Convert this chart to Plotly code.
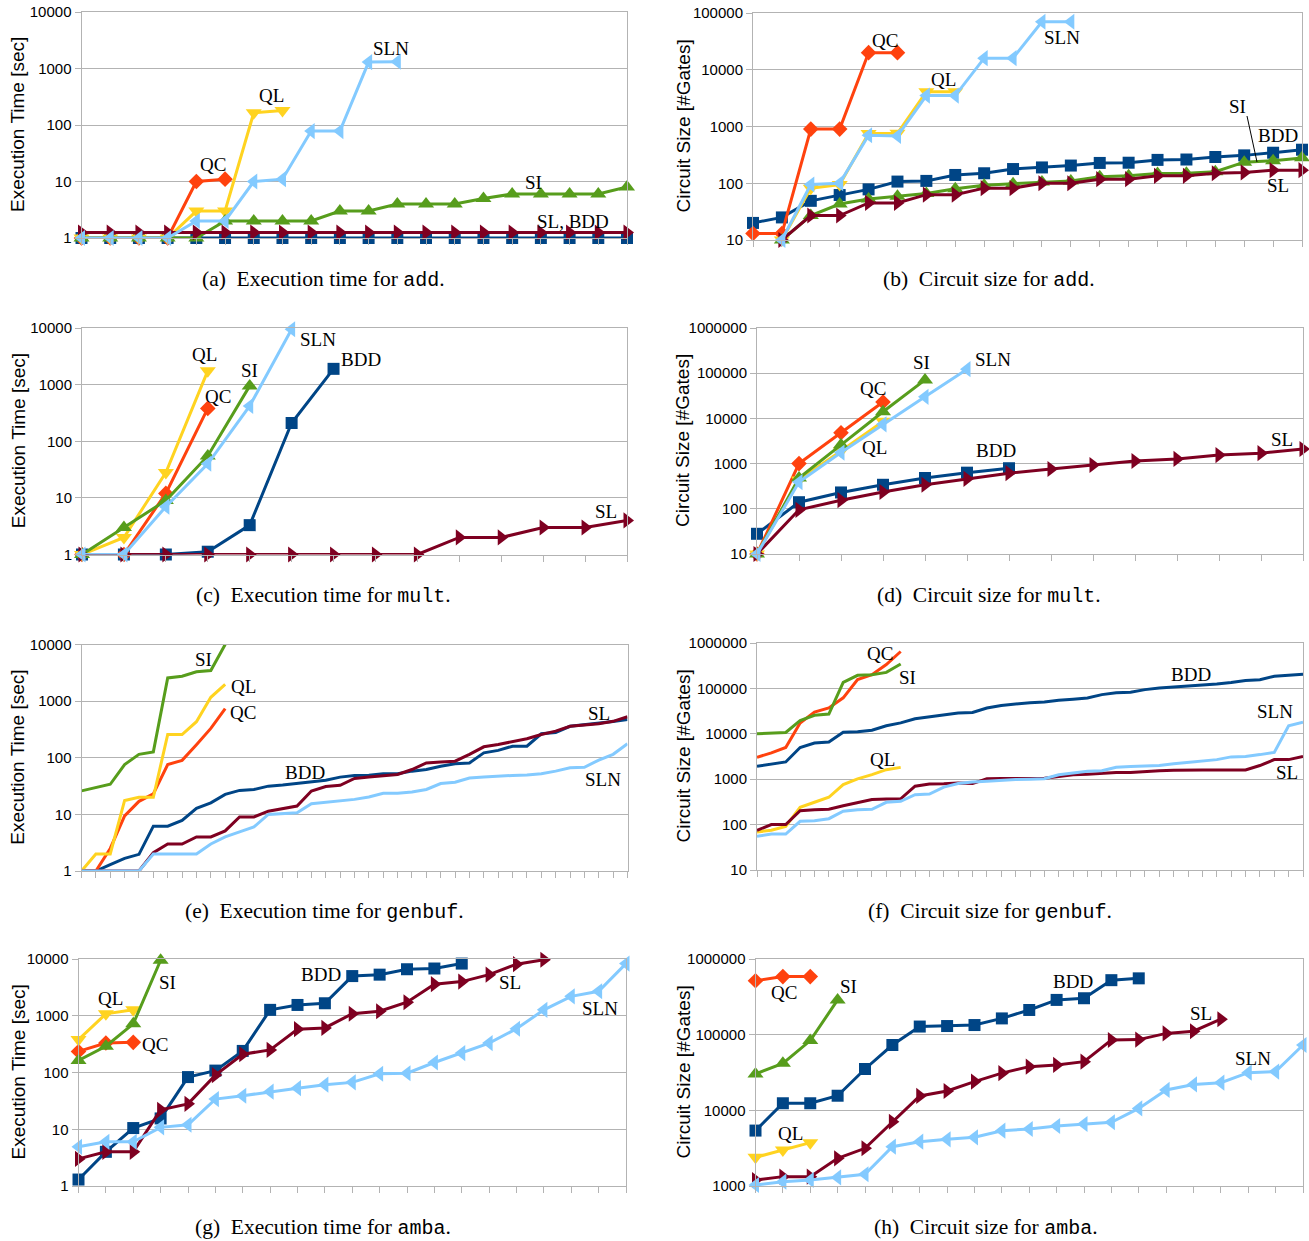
import math
import plotly.graph_objects as go

W, H = 1309, 1241

# ---------------- data ----------------
SERIES = ["BDD", "QC", "QL", "SI", "SL", "SLN"]

a_BDD = [1, 1, 1, 1, 1, 1, 1, 1, 1, 1, 1, 1, 1, 1, 1, 1, 1, 1, 1, 1]
a_QC = [1, 1, 1, 1, 10, 11]
a_QL = [1, 1, 1, 1, 3, 3, 165, 180]
a_SI = [1, 1, 1, 1, 1, 2, 2, 2, 2, 3, 3, 4, 4, 4, 5, 6, 6, 6, 6, 8]
a_SL = [1.25, 1.25, 1.25, 1.25, 1.25, 1.25, 1.25, 1.25, 1.25, 1.25, 1.25, 1.25, 1.25, 1.25, 1.25, 1.25, 1.25, 1.25, 1.25, 1.25]
a_SLN = [1, 1, 1, 1, 2, 2, 10, 11, 78, 78, 1300, 1320]

b_BDD = [20, 25, 49, 62, 78, 107, 110, 140, 150, 178, 190, 205, 228, 230, 258, 262, 290, 310, 345, 390]
b_QC = [13, 13, 900, 900, 20000, 20000]
b_QL = [None, 10, 82, 95, 750, 760, 4100, 4100]
b_SI = [None, 10, 27, 43, 53, 59, 66, 80, 92, 98, 105, 110, 130, 135, 148, 150, 160, 235, 250, 280]
b_SL = [None, 10, 27, 27, 45, 45, 63, 63, 82, 82, 100, 100, 118, 118, 135, 135, 150, 155, 170, 170]
b_SLN = [None, 10, 95, 100, 700, 680, 3500, 3500, 16000, 16000, 70000, 70000]

c_BDD = [1, 1, 1, 1.12, 3.3, 210, 1900]
c_QC = [1, 1, 12, 380]
c_QL = [1, 2, 28, 1750]
c_SI = [1, 3, 9, 55, 950]
c_SL = [1, 1, 1, 1, 1, 1, 1, 1, 1, 2, 2, 3, 3, 4]
c_SLN = [1, 1, 7, 40, 420, 9500]

d_BDD = [28, 140, 230, 340, 480, 630, 790]
d_QC = [10, 1000, 4800, 23000]
d_QL = [10, 435, 1900, 8600]
d_SI = [10, 480, 2600, 14000, 71000]
d_SL = [10, 95, 155, 235, 340, 460, 615, 760, 930, 1140, 1270, 1540, 1700, 2100]
d_SLN = [10, 390, 1750, 7400, 30000, 123000]

e_BDD = [1, 1, 1.3, 1.67, 1.97, 6.2, 6.2, 7.8, 12.8, 16, 22.5, 26.5, 27.5, 31.5, 33, 35, 37.5, 40, 45.5, 48.5,
         49, 52, 52, 58, 62, 71, 78, 81, 122, 135, 160, 160, 265, 280, 360, 380, 400, 435, 475]
e_QC = [1, 1, 2.5, 9.4, 17, 23, 76, 90, 170, 330, 740]
e_QL = [1, 2, 2, 17.6, 20, 20, 257, 257, 433, 1170, 1970]
e_SI = [26, 29.5, 34, 76, 115, 127, 2570, 2760, 3300, 3470, 10000]
e_SL = [1, 1, 1, 1, 1, 2.1, 3, 3, 4, 4, 5.1, 9, 9, 11.4, 12.8, 14, 25.8, 31, 32.6, 43,
        45.6, 48.8, 50.7, 62, 81, 84, 87, 115, 156, 172, 191, 216, 258, 295, 360, 380, 400, 440, 530]
e_SLN = [1, 1, 1, 1, 1, 2, 2, 2, 2, 3, 4, 4.9, 6, 10, 10.4, 10.7, 15.4, 16.3, 17.2, 18.4,
         20.3, 23.5, 23.5, 24.8, 27.5, 35, 37, 44, 45.6, 47.5, 48.8, 49.5, 52, 58, 66.5, 68, 91, 115, 177]

f_BDD = [1920, 2150, 2400, 5000, 6250, 6600, 10800, 11100, 12000, 15000, 17400, 21500, 23400, 25800, 28700,
         29500, 37000, 42000, 46000, 48500, 50000, 55000, 58000, 61500, 73000, 80000, 82000, 94000, 102000,
         107000, 115000, 121000, 125000, 135000, 150000, 155000, 185000, 196000, 205000]
f_QC = [3030, 3800, 5000, 17300, 30000, 37000, 62000, 156000, 200000, 335000, 650000]
f_QL = [69, 75, 91, 240, 310, 400, 760, 1020, 1260, 1620, 1820]
f_SI = [10000, 10300, 10700, 19500, 25500, 27300, 135000, 194000, 200000, 225000, 345000]
f_SL = [75, 100, 100, 203, 213, 218, 260, 300, 356, 366, 370, 700, 780, 790, 820, 800, 1020, 1030, 1030, 1050,
        1050, 1150, 1250, 1290, 1370, 1410, 1410, 1490, 1540, 1570, 1600, 1600, 1600, 1600, 1600, 2000, 2700, 2700, 3170]
f_SLN = [55, 62, 62, 118, 122, 135, 197, 213, 218, 310, 325, 455, 470, 670, 800, 870, 900, 945, 980, 1000,
         1020, 1250, 1370, 1490, 1540, 1830, 1900, 1980, 2000, 2190, 2340, 2450, 2700, 3100, 3170, 3480, 3900, 15000, 17900]

g_BDD = [1.3, 4, 10.5, 15.5, 83, 108, 240, 1270, 1550, 1660, 5000, 5300, 6600, 6800, 8300]
g_QC = [235, 330, 340]
g_QL = [380, 1080, 1280]
g_SI = [163, 290, 720, 9500]
g_SL = [3, 4, 4, 22, 28, 90, 210, 250, 580, 610, 1085, 1200, 1730, 3600, 4000, 5300, 8100, 9700]
g_SLN = [4.9, 6, 6, 10.8, 12, 34, 39, 46, 53, 61, 67, 95, 97, 150, 220, 330, 590, 1270, 2200, 2700, 8300]

h_BDD = [5400, 12400, 12400, 15600, 35200, 73000, 128000, 130000, 134000, 164000, 212000, 288000, 303000, 525000, 555000]
h_QC = [517000, 585000, 585000]
h_QL = [2390, 2990, 3740]
h_SI = [30200, 41800, 83500, 288000]
h_SL = [1200, 1330, 1330, 2320, 3150, 7070, 15500, 18000, 24000, 31000, 37800, 39800, 44000, 85000, 86000, 104000, 111000, 160000]
h_SLN = [1030, 1140, 1200, 1300, 1430, 3310, 3850, 4140, 4400, 5380, 5670, 6200, 6600, 6950, 10600, 18600, 22000, 23200, 31500, 32500, 73000]

n_instances = {"a": 20, "b": 20, "c": 14, "d": 14, "e": 39, "f": 39, "g": 21, "h": 21}

y_exec_ticks = [1, 10, 100, 1000, 10000]
y_size_ticks_b = [10, 100, 1000, 10000, 100000]
y_size_ticks_d = [10, 100, 1000, 10000, 100000, 1000000]
y_size_ticks_h = [1000, 10000, 100000, 1000000]

panel_data = {
    "a": [a_BDD, a_QC, a_QL, a_SI, a_SL, a_SLN],
    "b": [b_BDD, b_QC, b_QL, b_SI, b_SL, b_SLN],
    "c": [c_BDD, c_QC, c_QL, c_SI, c_SL, c_SLN],
    "d": [d_BDD, d_QC, d_QL, d_SI, d_SL, d_SLN],
    "e": [e_BDD, e_QC, e_QL, e_SI, e_SL, e_SLN],
    "f": [f_BDD, f_QC, f_QL, f_SI, f_SL, f_SLN],
    "g": [g_BDD, g_QC, g_QL, g_SI, g_SL, g_SLN],
    "h": [h_BDD, h_QC, h_QL, h_SI, h_SL, h_SLN],
}
panel_ticks = {"a": y_exec_ticks, "b": y_size_ticks_b, "c": y_exec_ticks, "d": y_size_ticks_d,
               "e": y_exec_ticks, "f": y_size_ticks_d, "g": y_exec_ticks, "h": y_size_ticks_h}
captions = {"a": ("Execution time", "add"), "b": ("Circuit size", "add"),
            "c": ("Execution time", "mult"), "d": ("Circuit size", "mult"),
            "e": ("Execution time", "genbuf"), "f": ("Circuit size", "genbuf"),
            "g": ("Execution time", "amba"), "h": ("Circuit size", "amba")}
labels = {
    "a": [("SLN", 391, 48), ("QL", 271, 96), ("QC", 213, 165), ("SI", 533, 182), ("SL, BDD", 573, 221)],
    "b": [("QC", 885, 40), ("QL", 943, 79), ("SLN", 1062, 37), ("SI", 1237, 106), ("BDD", 1278, 135), ("SL", 1278, 186)],
    "c": [("QL", 204, 354), ("SI", 249, 370), ("QC", 218, 397), ("SLN", 318, 339), ("BDD", 361, 359), ("SL", 606, 511)],
    "d": [("SI", 921, 362), ("SLN", 993, 359), ("QC", 873, 389), ("QL", 874, 447), ("BDD", 996, 450), ("SL", 1282, 440)],
    "e": [("SI", 203, 659), ("QL", 243, 686), ("QC", 243, 712), ("BDD", 305, 772), ("SL", 599, 713), ("SLN", 603, 779)],
    "f": [("QC", 880, 653), ("SI", 907, 677), ("QL", 882, 759), ("BDD", 1191, 675), ("SLN", 1275, 711), ("SL", 1287, 772)],
    "g": [("QL", 110, 998), ("SI", 167, 983), ("QC", 155, 1044), ("BDD", 321, 974), ("SL", 510, 982), ("SLN", 600, 1008)],
    "h": [("QC", 784, 992), ("SI", 848, 986), ("BDD", 1073, 981), ("SL", 1201, 1013), ("SLN", 1253, 1058), ("QL", 790, 1133)],
}

# ---------------- styling ----------------
COLORS = {"BDD": "#004586", "QC": "#ff420e", "QL": "#ffd320", "SI": "#579d1c", "SL": "#7e0021", "SLN": "#83caff"}
SYMBOLS = {"BDD": "square", "QC": "diamond", "QL": "triangle-down", "SI": "triangle-up",
           "SL": "triangle-right", "SLN": "triangle-left"}
MSIZE = {"BDD": 12, "QC": 12, "QL": 14, "SI": 14, "SL": 14, "SLN": 14}
GRID = "#b3b3b3"

# pixel boxes: x0, x1, y_top, y_bottom
boxes = {
    "a": (81.5, 627, 12, 238),
    "b": (753, 1302, 13, 240),
    "c": (82, 627, 328, 554.5),
    "d": (757, 1303, 328, 554),
    "e": (81.5, 627.5, 644.5, 871),
    "f": (757, 1303, 643, 870),
    "g": (78.5, 626, 959, 1186),
    "h": (755.5, 1303, 959, 1186),
}
caption_pos = {"a": (323, 279), "b": (989, 279), "c": (323, 596), "d": (989, 596),
               "e": (324, 911), "f": (990, 911), "g": (323, 1227), "h": (986, 1227)}
no_markers = {"e", "f"}

fig = go.Figure()
annotations = []
layout_axes = {}

for k, key in enumerate("abcdefgh"):
    idx = "" if k == 0 else str(k + 1)
    x0, x1, yt, yb = boxes[key]
    n = n_instances[key]
    ticks = panel_ticks[key]
    for name, vals in zip(SERIES, panel_data[key]):
        mode = "lines" if key in no_markers else "lines+markers"
        fig.add_trace(go.Scatter(
            x=list(range(len(vals))), y=vals, mode=mode, name=name, showlegend=False,
            xaxis="x" + idx, yaxis="y" + idx, cliponaxis=False, connectgaps=False,
            line=dict(color=COLORS[name], width=3),
            marker=dict(symbol=SYMBOLS[name], size=MSIZE[name], color=COLORS[name],
                        line=dict(width=0)),
        ))
    layout_axes["xaxis" + idx] = dict(
        domain=[x0 / W, x1 / W], anchor="y" + idx, range=[0, n - 1], automargin=False,
        tickvals=list(range(n)), showticklabels=False, ticks="outside", ticklen=6,
        tickcolor=GRID, showgrid=False, zeroline=False, showline=True, linecolor=GRID,
        linewidth=1, mirror=True, fixedrange=True)
    layout_axes["yaxis" + idx] = dict(
        domain=[1 - yb / H, 1 - yt / H], anchor="x" + idx, type="log", automargin=False,
        range=[math.log10(ticks[0]), math.log10(ticks[-1])],
        tickvals=ticks, ticktext=[str(t) for t in ticks], ticks="outside", ticklen=6,
        tickcolor=GRID, showgrid=True, gridcolor=GRID, gridwidth=1, zeroline=False,
        showline=True, linecolor=GRID, linewidth=1, mirror=True, fixedrange=True,
        tickfont=dict(family="Liberation Sans", size=15, color="black"))

    # y-axis title
    ytitle = "Execution Time [sec]" if key in "aceg" else "Circuit Size [#Gates]"
    tx = 18 if key in "aceg" else 683
    annotations.append(dict(text=ytitle, x=tx / W, y=1 - ((yt + yb) / 2) / H,
                            xref="paper", yref="paper", textangle=-90, showarrow=False,
                            xanchor="center", yanchor="middle",
                            font=dict(family="Liberation Sans", size=19, color="black")))
    # series labels
    for txt, px, py in labels[key]:
        annotations.append(dict(text=txt, x=px / W, y=1 - py / H, xref="paper", yref="paper",
                                showarrow=False, xanchor="center", yanchor="middle",
                                font=dict(family="Liberation Serif", size=19, color="black")))
    # caption
    what, bench = captions[key]
    cx, cy = caption_pos[key]
    annotations.append(dict(
        text=f"({key})\u00a0 {what} for <span style=\"font-family:'Liberation Mono';font-size:20px\">{bench}</span>.",
        x=cx / W, y=1 - cy / H, xref="paper", yref="paper", showarrow=False,
        xanchor="center", yanchor="middle",
        font=dict(family="Liberation Serif", size=21.5, color="black")))

fig.update_layout(
    width=W, height=H, margin=dict(l=0, r=0, t=0, b=0, autoexpand=False),
    paper_bgcolor="white", plot_bgcolor="white",
    annotations=annotations,
    shapes=[dict(type="line", xref="paper", yref="paper",
                 x0=1247 / W, y0=1 - 116 / H, x1=1257 / W, y1=1 - 162 / H,
                 line=dict(color="black", width=1))],
    **layout_axes,
)

fig.write_html("out.html", config={"displayModeBar": False},
               post_script="document.body.style.margin='0px';")
